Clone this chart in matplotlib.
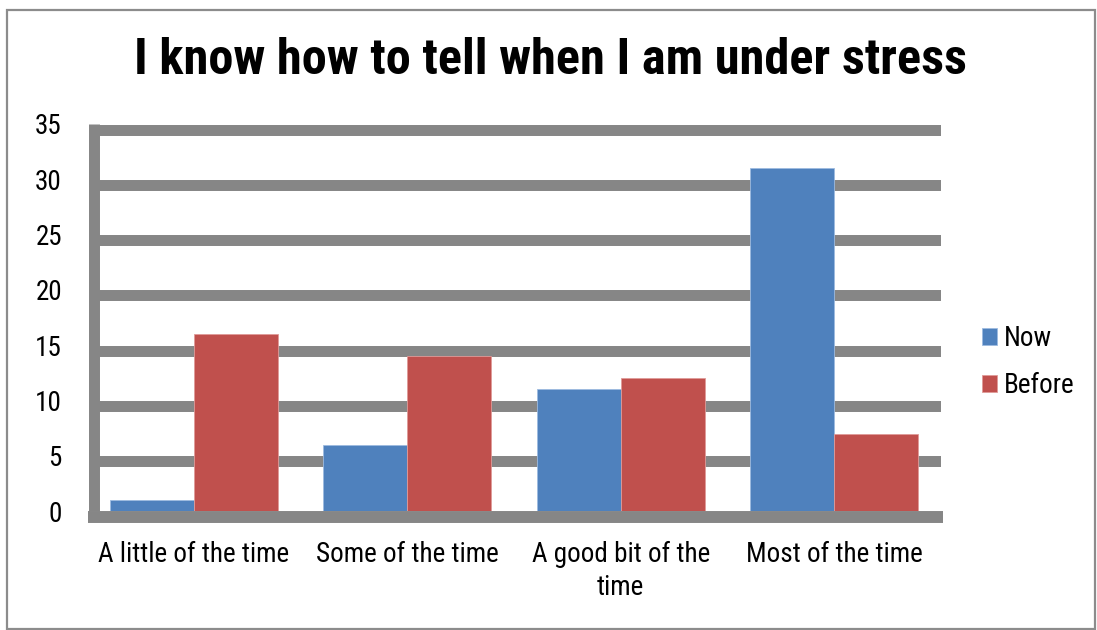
import matplotlib
matplotlib.use("Agg")
import matplotlib.pyplot as plt
from matplotlib import font_manager
from matplotlib.transforms import offset_copy
from matplotlib.patches import Rectangle

categories = ["A little of the time", "Some of the time", "A good bit of the\ntime", "Most of the time"]
now_values = [1, 6, 11, 31]
before_values = [16, 14, 12, 7]
series_names = ["Now", "Before"]
y_ticks = [0, 5, 10, 15, 20, 25, 30, 35]

BLUE = "#4F81BD"
RED = "#C0504D"
GRID = "#868686"

installed = {f.name for f in font_manager.fontManager.ttflist}
preferred = ["Liberation Sans Narrow", "Arial Narrow", "Roboto Condensed", "PT Sans Narrow",
             "Archivo Narrow", "Liberation Sans"]
family = next(n for n in preferred if n in installed)
plt.rcParams["font.family"] = [family, "DejaVu Sans"]

LABEL_SIZE = 19.5

W, H, DPI = 1097, 630, 100
fig = plt.figure(figsize=(W / DPI, H / DPI), dpi=DPI)
fig.patch.set_facecolor("white")

# outer chart border
fig.add_artist(Rectangle((7 / W, 1.5 / H), 1088 / W, (620 - 1.5) / H, transform=fig.transFigure,
                         fill=False, edgecolor="#8c8c8c", linewidth=1.6))

ax_left, ax_right = 87, 941
ax_bottom, ax_top = 511, 124
ax = fig.add_axes([ax_left / W, 1 - ax_bottom / H, (ax_right - ax_left) / W, (ax_bottom - ax_top) / H])
ax.set_xlim(-0.5, len(categories) - 0.5)
ax.set_ylim(0, 35)
for s in ax.spines.values():
    s.set_visible(False)
ax.set_facecolor("none")

# back-wall gridlines, shifted slightly down for the 3D look
grid_tr = offset_copy(ax.transData, fig=fig, x=0, y=-5.5, units="dots")
for v in y_ticks[1:]:
    ax.plot([-0.5 + 12 / 213.5, len(categories) - 0.5], [v, v], color=GRID, lw=7.9,
            solid_capstyle="butt", transform=grid_tr, zorder=1)
# left wall and floor
ax.plot([-0.5 + 6 / 213.5, -0.5 + 6 / 213.5], [0, 35], color=GRID, lw=7.9,
        solid_capstyle="butt", transform=offset_copy(ax.transData, fig=fig, x=1, y=0, units="dots"),
        zorder=1, clip_on=False)
ax.plot([-0.5 + 1 / 213.5, len(categories) - 0.5 + 2 / 213.5], [0, 0], color=GRID, lw=8.6,
        solid_capstyle="butt", transform=grid_tr, zorder=1, clip_on=False)

x = list(range(len(categories)))
bw = 0.394
ax.bar([i - bw / 2 for i in x], now_values, width=bw, color=BLUE, edgecolor="#9dbbe0",
       linewidth=0.6, label=series_names[0], zorder=3)
ax.bar([i + bw / 2 for i in x], before_values, width=bw, color=RED, edgecolor="#e09a98",
       linewidth=0.6, label=series_names[1], zorder=3)

ax.set_yticks(y_ticks)
ax.set_yticklabels([str(v) for v in y_ticks], fontsize=LABEL_SIZE)
ax.set_xticks(x)
ax.set_xticklabels(categories, fontsize=LABEL_SIZE, linespacing=1.3, va="top")
ax.tick_params(axis="y", length=0, pad=18)
ax.tick_params(axis="x", length=0, pad=21.5)

fig.text(550 / W, 1 - 61 / H, "I know how to tell when I am under stress", ha="center", va="center",
         fontsize=36.3, fontweight="bold")

leg = fig.legend(loc="center left", bbox_to_anchor=(982 / W, 1 - 362 / H), frameon=False,
                 prop={"size": LABEL_SIZE}, handlelength=0.55, handleheight=0.55,
                 handletextpad=0.25, labelspacing=0.74, borderpad=0, borderaxespad=0)

fig.savefig("out.png", dpi=DPI, facecolor="white")
